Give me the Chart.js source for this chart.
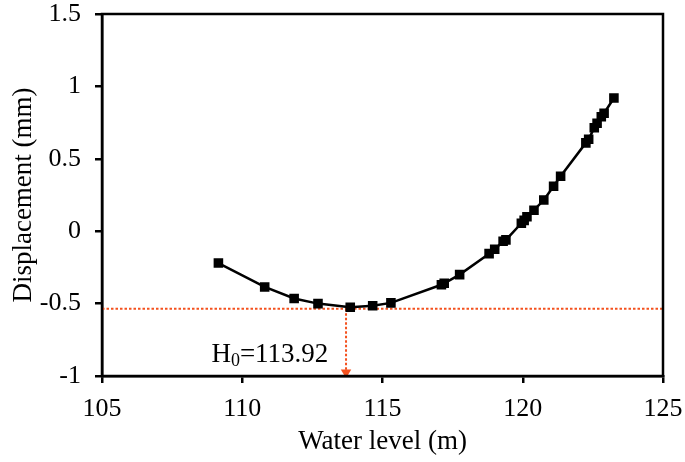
<!DOCTYPE html>
<html lang="en">
<head>
    <meta charset="UTF-8">
    <title>Displacement vs water level</title>
    <script src="https://cdn.jsdelivr.net/npm/chart.js"></script>
    <style>
        html, body { margin: 0; padding: 0; background: #fff; }
        #wrap { position: relative; width: 685px; height: 462px; }
    </style>
</head>
<body>
<div id="wrap"><canvas id="grafico"></canvas></div>
<script>
    // Data
    const waterLevel = [109.15, 110.8, 111.85, 112.7, 113.85, 114.65, 115.3, 117.1, 117.2, 117.75,
        118.8, 119.0, 119.3, 119.4, 119.95, 120.05, 120.15, 120.4, 120.75, 121.1, 121.35,
        122.25, 122.35, 122.55, 122.65, 122.8, 122.9, 123.25];
    const displacement = [-0.22, -0.385, -0.465, -0.5, -0.525, -0.515, -0.495, -0.37, -0.36, -0.3,
        -0.155, -0.125, -0.07, -0.06, 0.055, 0.075, 0.1, 0.145, 0.215, 0.31, 0.38,
        0.61, 0.635, 0.715, 0.745, 0.79, 0.815, 0.92];
    const xTicks = [105, 110, 115, 120, 125];
    const yTicks = [-1, -0.5, 0, 0.5, 1, 1.5];

    // Reference lines for the minimum
    const minLevel = -0.535;     // horizontal dotted line
    const minX = 113.7;          // where the arrow drops
    const h0Label = '113.92';

    const red = '#f4511e';
    const serif = '"Liberation Serif", "Times New Roman", serif';

    const points = waterLevel.map((x, i) => ({ x: x, y: displacement[i] }));

    // full frame round the plot + the H0 label
    const extras = {
        id: 'extras',
        afterDraw(chart) {
            const c = chart.ctx, a = chart.chartArea;
            const xs = chart.scales.x, ys = chart.scales.y;
            c.save();
            c.strokeStyle = '#000';
            c.lineWidth = 2.5;
            c.strokeRect(a.left, a.top, a.right - a.left, a.bottom - a.top);

            // label H0=...
            const tx = xs.getPixelForValue(108.9);
            const ty = ys.getPixelForValue(-0.9);
            c.fillStyle = '#000';
            c.textBaseline = 'alphabetic';
            c.font = '27px ' + serif;
            c.fillText('H', tx, ty);
            let w = c.measureText('H').width;
            c.font = '18px ' + serif;
            c.fillText('0', tx + w, ty + 4);
            w += c.measureText('0').width;
            c.font = '27px ' + serif;
            c.fillText('=' + h0Label, tx + w, ty);
            c.restore();
        }
    };

    const ctx = document.getElementById('grafico').getContext('2d');
    const grafico = new Chart(ctx, {
        type: 'scatter',
        data: {
            datasets: [
                {
                    label: 'Displacement',
                    data: points,
                    showLine: true,
                    borderColor: '#000',
                    backgroundColor: '#000',
                    borderWidth: 2.5,
                    pointStyle: 'rect',
                    pointRadius: 5,
                    pointHoverRadius: 5,
                    order: 1
                },
                {
                    label: 'hline',
                    data: [{ x: 105, y: minLevel }, { x: 125, y: minLevel }],
                    showLine: true,
                    borderColor: red,
                    borderWidth: 2,
                    borderDash: [2.5, 2],
                    pointRadius: 0,
                    order: 2
                },
                {
                    label: 'vline',
                    data: [{ x: minX, y: minLevel }, { x: minX, y: -0.975 }],
                    showLine: true,
                    borderColor: red,
                    backgroundColor: red,
                    borderWidth: 2,
                    borderDash: [2.5, 2],
                    pointStyle: 'triangle',
                    rotation: 180,
                    pointRadius: [0, 6],
                    pointBorderWidth: 0,
                    order: 2
                }
            ]
        },
        options: {
            responsive: true,
            maintainAspectRatio: false,
            animation: false,
            layout: { padding: { top: 14, right: 22, left: 0, bottom: 0 } },
            plugins: {
                legend: { display: false },
                tooltip: { enabled: false }
            },
            scales: {
                x: {
                    type: 'linear',
                    min: 105,
                    max: 125,
                    afterBuildTicks(scale) { scale.ticks = xTicks.map(v => ({ value: v })); },
                    afterFit(scale) {
                        scale.height = 86;
                        scale.paddingLeft = 0;
                        scale.paddingRight = 0;
                    },
                    grid: { drawOnChartArea: false, color: '#000', lineWidth: 2.5, tickLength: 7 },
                    border: { color: '#000', width: 2.5 },
                    ticks: {
                        color: '#000', font: { family: serif, size: 26 }, padding: 11, maxRotation: 0,
                        callback: v => String(v)
                    },
                    title: {
                        display: true,
                        text: 'Water level (m)',
                        color: '#000',
                        font: { family: serif, size: 27 },
                        padding: { top: 0, bottom: 4 }
                    }
                },
                y: {
                    type: 'linear',
                    min: -1,
                    max: 1.5,
                    afterBuildTicks(scale) { scale.ticks = yTicks.map(v => ({ value: v })); },
                    afterFit(scale) {
                        scale.width = 102;
                        scale.paddingTop = 0;
                        scale.paddingBottom = 0;
                    },
                    grid: { drawOnChartArea: false, color: '#000', lineWidth: 2.5, tickLength: 7 },
                    border: { color: '#000', width: 2.5 },
                    ticks: {
                        color: '#000', font: { family: serif, size: 26 }, padding: 14,
                        callback: v => String(v)
                    },
                    title: {
                        display: true,
                        text: 'Displacement (mm)',
                        color: '#000',
                        font: { family: serif, size: 27 },
                        padding: { top: 8, bottom: 0 }
                    }
                }
            }
        },
        plugins: [extras]
    });
</script>
</body>
</html>
